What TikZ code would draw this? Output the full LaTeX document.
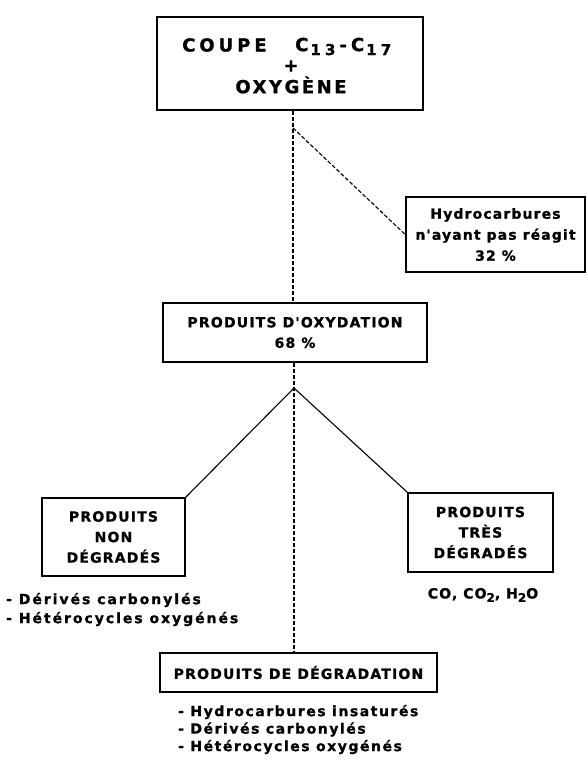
\documentclass[tikz,border=0pt]{standalone}
\usepackage{fontspec}
\setmainfont{DejaVu Sans}
\newfontfamily\coupefont[LetterSpace=28,FakeBold=1]{DejaVu Sans}
\newfontfamily\coupewordfont[LetterSpace=22,FakeBold=1]{DejaVu Sans}
\newfontfamily\topfont[LetterSpace=14,FakeBold=1]{DejaVu Sans}
\newfontfamily\capfont[LetterSpace=8.5,FakeBold=1]{DejaVu Sans}
\newfontfamily\lowfont[LetterSpace=8,FakeBold=1]{DejaVu Sans}
\newfontfamily\leftlistfont[LetterSpace=14,FakeBold=1]{DejaVu Sans}
\newfontfamily\botlistfont[LetterSpace=11,FakeBold=1]{DejaVu Sans}
\newcommand{\lowsub}[1]{\raisebox{-0.45ex}{\fontsize{12}{12}\selectfont #1}}
\newcommand{\topsub}[1]{\raisebox{-0.4ex}{\fontsize{15}{15}\selectfont #1}}
\tikzset{
  box/.style={draw, line width=1.6pt, inner sep=0pt, align=center},
  conn/.style={line width=1.1pt, dash pattern=on 4pt off 2pt},
  branch/.style={line width=1.1pt},
  toptext/.style={font=\topfont\bfseries\fontsize{18}{20}\selectfont, inner sep=0pt},
  coupetext/.style={font=\coupefont\bfseries\fontsize{18}{20}\selectfont, inner sep=0pt},
  captext/.style={font=\capfont\bfseries\fontsize{14}{20.5}\selectfont},
  lowtext/.style={font=\lowfont\bfseries\fontsize{14}{21}\selectfont},
  listtext/.style={align=left, inner sep=0pt}
}
\begin{document}
\begin{tikzpicture}[x=1pt,y=-1pt]
\useasboundingbox[fill=white] (0,0) rectangle (587,760);
% top box and its lines
\node[box, line width=1.9pt, minimum width=266pt, minimum height=93pt] (top) at (290,63.5) {};
\node[toptext, font=\coupewordfont\bfseries\fontsize{18}{20}\selectfont, anchor=west] (t1a) at (182,45) {COUPE};
\node[coupetext, anchor=west] (t1b) at (295,46.5)
  {C\hspace{2pt}\topsub{13}\hspace{4pt}-\hspace{4pt}C\hspace{2pt}\topsub{17}};
\node[toptext] (t2) at (291,66) {+};
\node[toptext] (t3) at (291,85) {OXYGÈNE};
% other boxes
\node[box, lowtext, minimum width=179pt, minimum height=75pt] (hyd) at (495.5,234.5)
  {Hydrocarbures\\n'ayant pas réagit\\32 \%};
\node[box, captext, minimum width=264pt, minimum height=59pt] (oxy) at (295,332.5)
  {PRODUITS D'OXYDATION\\68 \%};
\node[box, captext, minimum width=143pt, minimum height=78pt] (left) at (113.5,537)
  {PRODUITS\\NON\\DÉGRADÉS};
\node[box, captext, minimum width=145pt, minimum height=79pt] (right) at (480.5,532.5)
  {PRODUITS\\TRÈS\\DÉGRADÉS};
\node[box, captext, minimum width=277pt, minimum height=39pt] (bot) at (298.5,672.5)
  {PRODUITS DE DÉGRADATION};
% texts under boxes
\node[listtext, anchor=west, font=\leftlistfont\bfseries\fontsize{14}{19}\selectfont] (leftlist) at (6,609.5)
  {- Dérivés carbonylés\\- Hétérocycles oxygénés};
\node[lowtext, inner sep=0pt] (rightlist) at (483,595)
  {CO, CO\lowsub{2}, H\lowsub{2}O};
\node[listtext, anchor=west, font=\botlistfont\bfseries\fontsize{14}{17.5}\selectfont] (botlist) at (178,729.5)
  {- Hydrocarbures insaturés\\- Dérivés carbonylés\\- Hétérocycles oxygénés};
% connectors
\coordinate (j1) at (293,128);
\coordinate (j2) at (294,388);
\draw[conn] (top.south -| j1) -- (oxy.north -| j1);
\draw[conn] (j1) -- (hyd.west);
\draw[conn] (oxy.south -| j2) -- (bot.north -| j2);
\draw[branch] (j2) -- (left.north east);
\draw[branch] (j2) -- (right.north west);
\end{tikzpicture}
\end{document}
